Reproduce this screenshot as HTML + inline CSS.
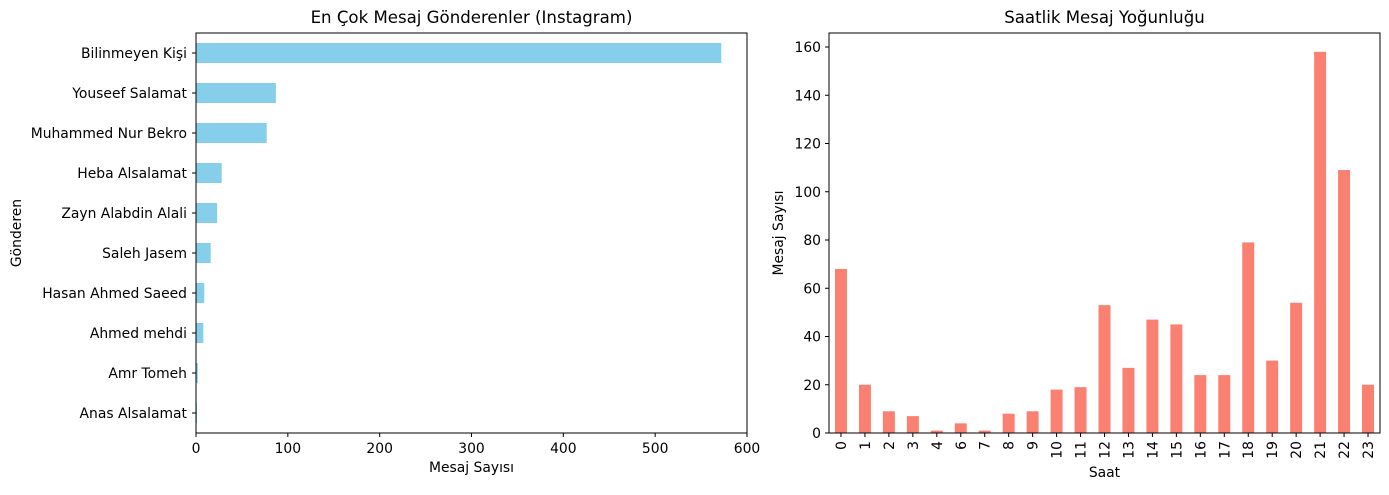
<!DOCTYPE html>
<html><head><meta charset="utf-8"><style>
body{margin:0;background:#fff;font-family:"Liberation Sans","DejaVu Sans",sans-serif;}
svg text{font-family:"DejaVu Sans","Liberation Sans",sans-serif;}
</style></head><body>
<svg id="c" width="1389" height="490" xmlns="http://www.w3.org/2000/svg"></svg>
<script>
const senders=["Bilinmeyen Kişi","Youseef Salamat","Muhammed Nur Bekro","Heba Alsalamat","Zayn Alabdin Alali","Saleh Jasem","Hasan Ahmed Saeed","Ahmed mehdi","Amr Tomeh","Anas Alsalamat"];
const senderCounts=[572,87,77,28,23,16,9,8,2,1];
const xTicksL=[0,100,200,300,400,500,600];
const hours=["0","1","2","3","4","6","7","8","9","10","11","12","13","14","15","16","17","18","19","20","21","22","23"];
const hourCounts=[68,20,9,7,1,4,1,8,9,18,19,53,27,47,45,24,24,79,30,54,158,109,20];
const yTicksR=[0,20,40,60,80,100,120,140,160];

const svg=document.getElementById('c');
const NS="http://www.w3.org/2000/svg";
const FS=13.9;
function mk(t,a,txt){const e=document.createElementNS(NS,t);for(const k in a)e.setAttribute(k,a[k]);if(txt!==undefined)e.textContent=txt;svg.appendChild(e);return e;}

// Left chart
const L={x0:196,x1:747,y0:33,y1:433};
const sxL=v=>L.x0+v*(551/600);
const bandL=(L.y1-L.y0)/senders.length;
senders.forEach((s,i)=>{
  const cy=L.y0+bandL*(i+0.5);
  const r=mk('rect',{x:sxL(0),y:cy-bandL*0.25,width:sxL(senderCounts[i])-sxL(0),height:bandL*0.5,fill:'#87ceeb'});
  
  
  mk('line',{x1:L.x0,x2:L.x0-4,y1:cy,y2:cy,stroke:'#000'});
  const t=mk('text',{x:L.x0-9,y:cy+5,'text-anchor':'end','font-size':FS},s);
  
  
});
xTicksL.forEach(v=>{
  const x=sxL(v);
  mk('line',{x1:x,x2:x,y1:L.y1,y2:L.y1+4,stroke:'#000'});
  const t=mk('text',{x:x,y:L.y1+20,'text-anchor':'middle','font-size':FS},v);
  
  
});
mk('rect',{x:L.x0,y:L.y0,width:L.x1-L.x0,height:L.y1-L.y0,fill:'none',stroke:'#000','stroke-width':1,});
mk('text',{x:(L.x0+L.x1)/2,y:23,'text-anchor':'middle','font-size':16.6,},'En Çok Mesaj Gönderenler (Instagram)');
mk('text',{x:(L.x0+L.x1)/2,y:472,'text-anchor':'middle','font-size':FS,},'Mesaj Sayısı');
mk('text',{x:21,y:233,'text-anchor':'middle','font-size':FS,transform:'rotate(-90 21 233)',},'Gönderen');

// Right chart
const R={x0:829,x1:1380,y0:33,y1:433};
const syR=v=>R.y1-v*((R.y1-47)/160);
const bandR=(R.x1-R.x0)/hours.length;
hours.forEach((h,i)=>{
  const cx=R.x0+bandR*(i+0.5);
  const r=mk('rect',{x:cx-bandR*0.25,y:syR(hourCounts[i]),width:bandR*0.5,height:syR(0)-syR(hourCounts[i]),fill:'#fa8072'});
  
  
  mk('line',{x1:cx,x2:cx,y1:R.y1,y2:R.y1+4,stroke:'#000'});
  const t=mk('text',{x:cx+5,y:R.y1+8,'text-anchor':'end','font-size':FS,transform:`rotate(-90 ${cx+5} ${R.y1+8})`},h);
  
  
});
yTicksR.forEach(v=>{
  const y=syR(v);
  mk('line',{x1:R.x0,x2:R.x0-4,y1:y,y2:y,stroke:'#000'});
  const t=mk('text',{x:R.x0-8,y:y+5,'text-anchor':'end','font-size':FS},v);
  
  
});
mk('rect',{x:R.x0,y:R.y0,width:R.x1-R.x0,height:R.y1-R.y0,fill:'none',stroke:'#000','stroke-width':1,});
mk('text',{x:(R.x0+R.x1)/2,y:23,'text-anchor':'middle','font-size':16.6,},'Saatlik Mesaj Yoğunluğu');
mk('text',{x:(R.x0+R.x1)/2,y:477,'text-anchor':'middle','font-size':FS,},'Saat');
mk('text',{x:783,y:233,'text-anchor':'middle','font-size':FS,transform:'rotate(-90 783 233)',},'Mesaj Sayısı');
</script>
</body></html>
